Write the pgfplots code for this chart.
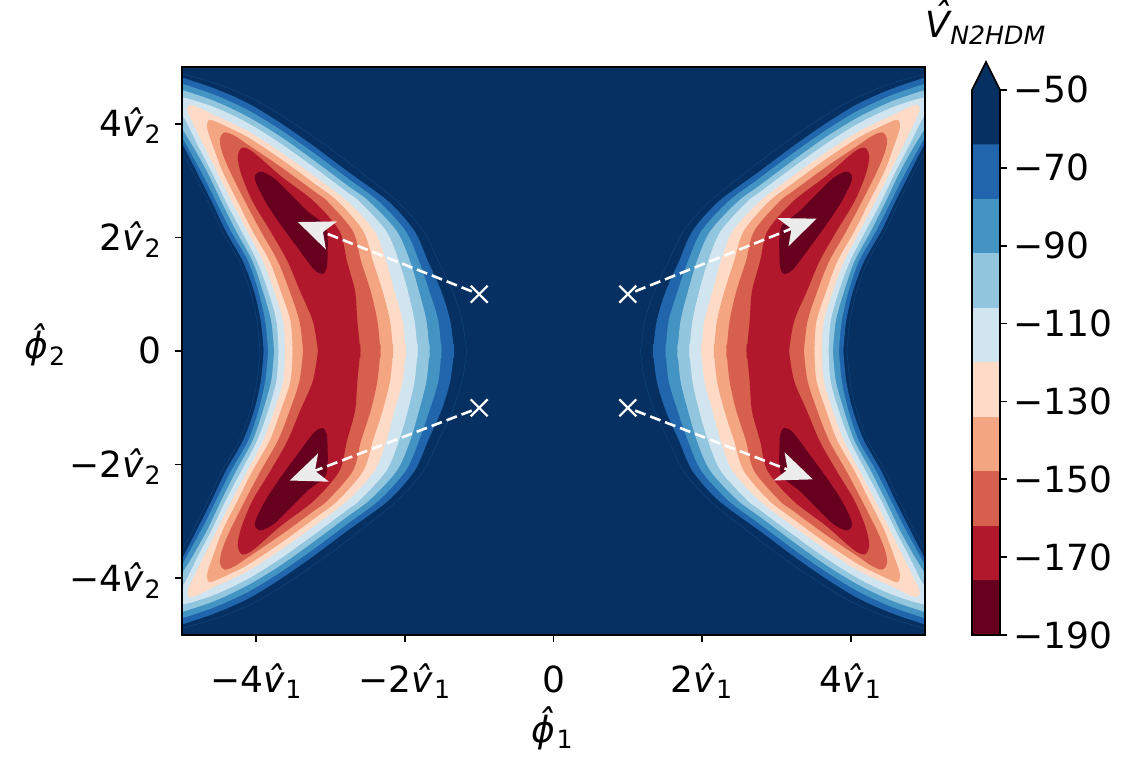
\documentclass[border=0pt]{standalone}
\usepackage{pgfplots}
\pgfplotsset{compat=1.18}
\usepackage{pgfplotstable}
\usetikzlibrary{arrows.meta}
\usepackage{fontspec}
\setmainfont{DejaVu Sans}[ItalicFont={DejaVu Sans Oblique}]

% RdBu, ten discrete levels
\definecolor{rb1}{HTML}{67001F}
\definecolor{rb2}{HTML}{B2182B}
\definecolor{rb3}{HTML}{D6604D}
\definecolor{rb4}{HTML}{F4A582}
\definecolor{rb5}{HTML}{FDDBC7}
\definecolor{rb6}{HTML}{D1E5F0}
\definecolor{rb7}{HTML}{92C5DE}
\definecolor{rb8}{HTML}{4393C3}
\definecolor{rb9}{HTML}{2166AC}
\definecolor{rb10}{HTML}{053061}
\definecolor{headgrey}{HTML}{ECECEC}
\colorlet{seam}{rb9!30!rb10}

\newcommand{\lblfont}{\fontsize{18bp}{21.6bp}\selectfont}
\newcommand{\vh}[1]{\textit{\^{v}}\textsubscript{#1}}
\newcommand{\phh}[1]{\textit{\^{ϕ}}\textsubscript{#1}}
% capital V with a circumflex stacked above it
\newcommand{\Vhat}{\textit{\ooalign{V\cr\hidewidth\kern0.2em\raisebox{0.24em}{\char"02C6}\hidewidth\cr}}}

% Upper-left half of each filled level set V < L (mirrored to the other quadrants)
\pgfplotstableread{
x y
-3.90 -0.12
-3.90 0.00
-3.94 0.53
-4.03 1.05
-4.18 1.58
-4.41 2.11
-4.60 2.63
-4.80 3.15
-5.00 3.66
-5.22 4.20
-5.45 4.75
-5.60 4.95
-5.45 5.02
-5.01 4.82
-4.56 4.62
-4.11 4.36
-3.67 4.01
-3.22 3.60
-2.77 3.16
-2.22 2.63
-1.87 2.11
-1.69 1.58
-1.51 1.05
-1.39 0.53
-1.34 0.00
-1.34 -0.12
}\lvA % -64
\pgfplotstableread{
x y
-3.84 -0.12
-3.84 0.00
-3.88 0.53
-3.97 1.05
-4.11 1.58
-4.34 2.11
-4.54 2.63
-4.74 3.15
-5.00 3.77
-5.20 4.25
-5.35 4.62
-5.30 4.83
-5.01 4.71
-4.56 4.51
-4.11 4.24
-3.67 3.89
-3.22 3.48
-2.77 3.04
-2.35 2.63
-1.99 2.11
-1.81 1.58
-1.67 1.05
-1.55 0.53
-1.51 0.00
-1.51 -0.12
}\lvB % -78
\pgfplotstableread{
x y
-3.76 -0.12
-3.76 0.00
-3.80 0.53
-3.91 1.05
-4.05 1.58
-4.27 2.11
-4.47 2.63
-4.66 3.15
-4.85 3.60
-5.00 3.92
-5.15 4.28
-5.20 4.50
-5.10 4.63
-5.01 4.60
-4.56 4.40
-4.11 4.12
-3.67 3.77
-3.22 3.35
-2.77 2.91
-2.48 2.63
-2.11 2.11
-1.93 1.58
-1.81 1.05
-1.71 0.53
-1.67 0.00
-1.67 -0.12
}\lvC % -92
\pgfplotstableread{
x y
-3.70 -0.12
-3.70 0.00
-3.73 0.53
-3.84 1.05
-3.99 1.58
-4.20 2.11
-4.41 2.63
-4.60 3.15
-4.78 3.60
-4.95 4.05
-5.07 4.33
-5.02 4.47
-4.56 4.29
-4.11 4.01
-3.67 3.65
-3.22 3.23
-2.77 2.79
-2.61 2.63
-2.25 2.11
-2.08 1.58
-1.96 1.05
-1.87 0.53
-1.83 0.00
-1.83 -0.12
}\lvD % -106
\pgfplotstableread{
x y
-3.61 -0.12
-3.61 0.00
-3.64 0.53
-3.76 1.05
-3.91 1.58
-4.12 2.11
-4.33 2.63
-4.53 3.15
-4.70 3.60
-4.85 4.00
-4.93 4.25
-4.86 4.33
-4.56 4.15
-4.11 3.87
-3.67 3.50
-3.22 3.08
-2.77 2.63
-2.41 2.11
-2.25 1.58
-2.14 1.05
-2.03 0.53
-1.99 0.00
-1.99 -0.12
}\lvE % -120
\pgfplotstableread{
x y
-3.51 -0.12
-3.51 0.00
-3.54 0.53
-3.67 1.05
-3.82 1.58
-4.05 2.11
-4.25 2.63
-4.45 3.15
-4.58 3.60
-4.66 3.92
-4.63 4.07
-4.45 3.98
-4.11 3.76
-3.67 3.38
-3.22 2.95
-2.90 2.63
-2.56 2.11
-2.43 1.58
-2.30 1.05
-2.20 0.53
-2.16 0.00
-2.16 -0.12
}\lvF % -134
\pgfplotstableread{
x y
-3.37 -0.12
-3.37 0.00
-3.42 0.53
-3.55 1.05
-3.71 1.58
-3.94 2.11
-4.15 2.63
-4.35 3.15
-4.46 3.50
-4.49 3.74
-4.42 3.85
-4.28 3.78
-4.11 3.63
-3.67 3.24
-3.22 2.81
-3.04 2.63
-2.70 2.11
-2.59 1.58
-2.46 1.05
-2.37 0.53
-2.33 0.00
-2.33 -0.12
}\lvG % -148
\pgfplotstableread{
x y
-3.17 -0.12
-3.17 0.00
-3.24 0.53
-3.41 1.05
-3.58 1.58
-3.81 2.11
-4.05 2.63
-4.20 3.10
-4.25 3.42
-4.19 3.58
-4.04 3.50
-3.67 3.08
-3.22 2.63
-2.88 2.11
-2.78 1.58
-2.67 1.05
-2.64 0.53
-2.60 0.00
-2.60 -0.12
}\lvH % -162
\pgfplotstableread{
x y
-3.04 1.75
-3.04 1.99
-3.08 2.22
-3.31 2.46
-3.53 2.75
-3.76 3.04
-3.94 3.16
-4.02 3.07
-3.98 2.89
-3.85 2.57
-3.67 2.22
-3.44 1.81
-3.22 1.43
-3.10 1.36
-3.05 1.48
-3.04 1.75
}\lvI % -176 (closed in one quadrant)
% the -50 contour, only visible as a faint seam
\pgfplotstableread{
x y
-3.95 0.00
-3.99 0.53
-4.08 1.05
-4.23 1.58
-4.46 2.11
-4.65 2.63
-4.85 3.15
-5.05 3.62
}\seamOut
\pgfplotstableread{
x y
-1.17 0.00
-1.23 0.53
-1.36 1.05
-1.55 1.58
-1.75 2.11
-2.10 2.63
-2.66 3.22
-3.12 3.67
-3.58 4.08
-4.03 4.43
-4.50 4.69
-5.05 4.90
}\seamIn

\newcommand{\fourfold}[2]{%
  \addplot[fill=#2, draw=none, smooth] table[x=x, y=y] {#1} -- cycle;
  \addplot[fill=#2, draw=none, smooth] table[x=x, y expr=-\thisrow{y}] {#1} -- cycle;
  \addplot[fill=#2, draw=none, smooth] table[x expr=-\thisrow{x}, y=y] {#1} -- cycle;
  \addplot[fill=#2, draw=none, smooth] table[x expr=-\thisrow{x}, y expr=-\thisrow{y}] {#1} -- cycle;
}
\newcommand{\fourline}[1]{%
  \addplot[seam, line width=0.35bp, smooth] table[x=x, y=y] {#1};
  \addplot[seam, line width=0.35bp, smooth] table[x=x, y expr=-\thisrow{y}] {#1};
  \addplot[seam, line width=0.35bp, smooth] table[x expr=-\thisrow{x}, y=y] {#1};
  \addplot[seam, line width=0.35bp, smooth] table[x expr=-\thisrow{x}, y expr=-\thisrow{y}] {#1};
}

\tikzset{minarrow/.style={white, line width=1.3bp, dash pattern=on 5.5bp off 2.5bp,
  -{Stealth[length=18bp, width=15bp, inset=4.5bp, color=headgrey]}}}

\begin{document}
\begin{tikzpicture}
\begin{axis}[
  name=main, at={(0,0)}, anchor=south west,
  scale only axis, width=371.5bp, height=284bp,
  xmin=-5, xmax=5, ymin=-5, ymax=5,
  axis background/.style={fill=rb10},
  axis on top,
  tick align=outside, tick pos=left,
  major tick length=3.5bp,
  every tick/.style={black, line width=0.8bp},
  axis line style={black, line width=0.8bp},
  xtick={-4,-2,0,2,4},
  xticklabels={−4\vh1, −2\vh1, 0, 2\vh1, 4\vh1},
  ytick={-4,-2,0,2,4},
  yticklabels={−4\vh2, −2\vh2, 0, 2\vh2, 4\vh2},
  ticklabel style={font=\lblfont},
  xticklabel style={anchor=north, inner sep=0pt, text height=14bp, text depth=4bp, yshift=-11bp},
  yticklabel style={anchor=east, inner sep=0pt, text height=13bp, text depth=0bp, xshift=-6.5bp},
  xlabel={\phh1}, ylabel={\phh2},
  every axis x label/.style={at={(axis description cs:0.499,-0.164)}, anchor=center, font=\lblfont},
  every axis y label/.style={at={(axis description cs:-0.184,0.511)}, anchor=center, font=\lblfont},
]
\fourfold{\lvA}{rb9}
\fourfold{\lvB}{rb8}
\fourfold{\lvC}{rb7}
\fourfold{\lvD}{rb6}
\fourfold{\lvE}{rb5}
\fourfold{\lvF}{rb4}
\fourfold{\lvG}{rb3}
\fourfold{\lvH}{rb2}
\fourfold{\lvI}{rb1}
\fourline{\seamOut}
\fourline{\seamIn}

% from the starting points to the minima
\addplot[minarrow] coordinates {(-1.10,1.05) (-3.44,2.27)};
\addplot[minarrow] coordinates {(-1.10,-1.05) (-3.55,-2.28)};
\addplot[minarrow] coordinates {(1.10,1.05) (3.54,2.33)};
\addplot[minarrow] coordinates {(1.10,-1.05) (3.49,-2.26)};
\addplot[only marks, mark=x, mark size=6bp, white, line width=1.1bp]
  coordinates {(-1,1) (1,1) (-1,-1) (1,-1)};
\end{axis}

% colour bar
\begin{axis}[
  at={(395bp,0)}, anchor=south west,
  scale only axis, width=14bp, height=272.5bp,
  xmin=0, xmax=1, ymin=-190, ymax=-50,
  clip=false,
  axis line style={draw=none},
  xtick=\empty,
  ytick={-190,-170,-150,-130,-110,-90,-70,-50},
  yticklabels={−190,−170,−150,−130,−110,−90,−70,−50},
  ytick pos=right, yticklabel pos=right,
  tick align=outside, major tick length=3.5bp,
  every tick/.style={black, line width=0.8bp},
  yticklabel style={font=\lblfont, anchor=west, inner sep=0pt, text height=13bp, text depth=0bp, xshift=3bp},
  title={\Vhat\textsubscript{\textit{N2HDM}}},
  title style={font=\lblfont, at={(axis description cs:0.5,1.0745)}, anchor=base},
]
\addplot[fill=rb1, draw=none] coordinates {(0,-190) (1,-190) (1,-176) (0,-176)} -- cycle;
\addplot[fill=rb2, draw=none] coordinates {(0,-176) (1,-176) (1,-162) (0,-162)} -- cycle;
\addplot[fill=rb3, draw=none] coordinates {(0,-162) (1,-162) (1,-148) (0,-148)} -- cycle;
\addplot[fill=rb4, draw=none] coordinates {(0,-148) (1,-148) (1,-134) (0,-134)} -- cycle;
\addplot[fill=rb5, draw=none] coordinates {(0,-134) (1,-134) (1,-120) (0,-120)} -- cycle;
\addplot[fill=rb6, draw=none] coordinates {(0,-120) (1,-120) (1,-106) (0,-106)} -- cycle;
\addplot[fill=rb7, draw=none] coordinates {(0,-106) (1,-106) (1,-92) (0,-92)} -- cycle;
\addplot[fill=rb8, draw=none] coordinates {(0,-92) (1,-92) (1,-78) (0,-78)} -- cycle;
\addplot[fill=rb9, draw=none] coordinates {(0,-78) (1,-78) (1,-64) (0,-64)} -- cycle;
\addplot[fill=rb10, draw=none] coordinates {(0,-64) (1,-64) (1,-50) (0.5,-42.8) (0,-50)} -- cycle;
\addplot[black, line width=0.8bp, line join=miter] coordinates {(0,-190) (1,-190) (1,-50) (0.5,-42.8) (0,-50)} -- cycle;
\end{axis}

\pgfresetboundingbox
\path (-91bp,-62bp) rectangle (482bp,317.5bp);
\end{tikzpicture}
\end{document}
